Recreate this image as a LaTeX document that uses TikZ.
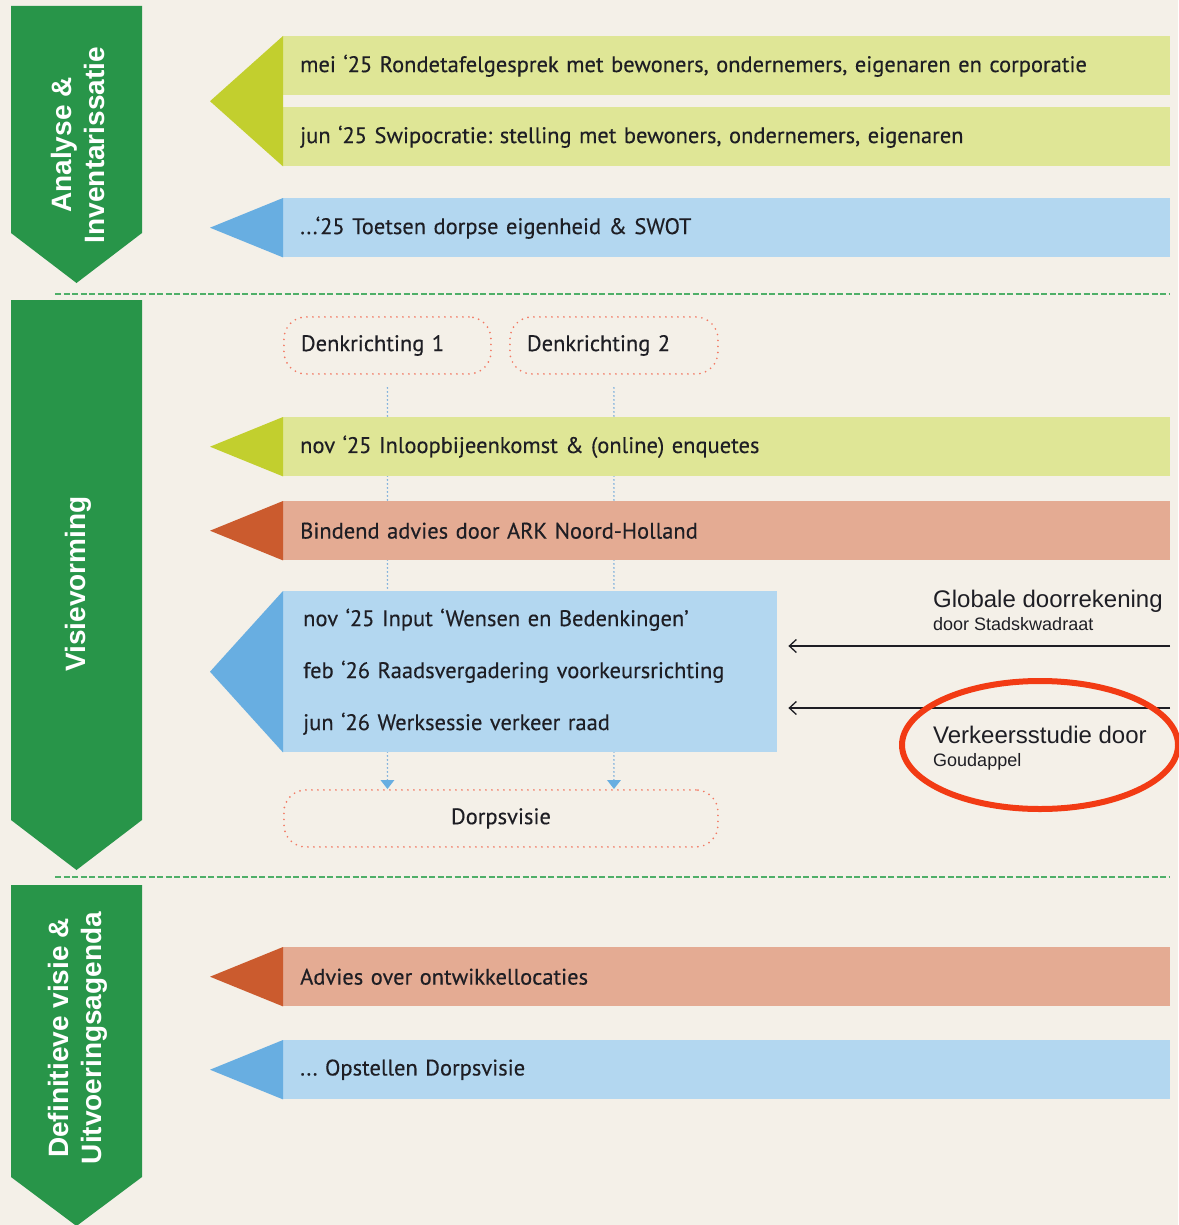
\documentclass[tikz,border=0pt]{standalone}
\usepackage{fontspec}
\setmainfont[WordSpace=0.8,FakeBold=0.3]{PT Sans}
\newfontfamily\arialfont{Liberation Sans}
\usetikzlibrary{arrows.meta,calc}
\frenchspacing
\definecolor{bg}{HTML}{F4F0E8}
\definecolor{bannergreen}{HTML}{289549}
\definecolor{sepgreen}{HTML}{4FAF68}
\definecolor{limetri}{HTML}{C2CF2E}
\definecolor{limebar}{HTML}{DFE696}
\definecolor{bluetri}{HTML}{68AEE1}
\definecolor{bluebar}{HTML}{B3D7F0}
\definecolor{salmtri}{HTML}{CB5B2E}
\definecolor{salmbar}{HTML}{E4AB93}
\definecolor{dotred}{HTML}{F27A64}
\definecolor{dotblue}{HTML}{7AAEDC}
\definecolor{ringred}{HTML}{F23B14}
\definecolor{txt}{HTML}{1E1E24}
\begin{document}
\begin{tikzpicture}[x=1pt,y=-1pt,
  bar/.style={anchor=north west, minimum height=59pt, text width=853pt, inner xsep=17pt, inner ysep=0pt,
    align=left, font=\fontsize{22.5}{26}\selectfont, text=txt},
  banner/.style={fill=bannergreen},
  bannertext/.style={rotate=90, text=white, align=center, font=\arialfont\bfseries\fontsize{28}{33}\selectfont},
  dotbox/.style={anchor=north west, draw=dotred, rounded corners=22pt, line width=1.9pt,
    dash pattern=on 0pt off 6pt, line cap=round, minimum height=57pt, inner ysep=0pt,
    font=\fontsize{22.5}{26}\selectfont, text=txt},
  flow/.style={draw=dotblue, line width=1.8pt, dash pattern=on 0pt off 4pt, line cap=round,
    -{Triangle[width=14pt,length=9pt,fill=bluetri,line width=0pt]}},
  sep/.style={draw=sepgreen, line width=1.2pt, dash pattern=on 6pt off 2.5pt},
  harrow/.style={draw=txt, line width=1.3pt, -{Straight Barb[length=7pt,width=13pt]}},
  sidebig/.style={anchor=base west, inner sep=0pt, text=txt, font=\arialfont\fontsize{24}{28}\selectfont},
  sidesmall/.style={anchor=base west, inner sep=0pt, text=txt, font=\arialfont\fontsize{18}{21}\selectfont}
]
\fill[bg] (0,0) rectangle (1178,1225);
\useasboundingbox (0,0) rectangle (1178,1225);

% banners
\fill[banner] (11,6) -- (142,6) -- (142,233) -- (76.5,283) -- (11,233) -- cycle;
\fill[banner] (11,300) -- (142,300) -- (142,820) -- (76.5,870) -- (11,820) -- cycle;
\fill[banner] (11,885) -- (142,885) -- (142,1177) -- (76.5,1226) -- (11,1177) -- cycle;
\node[bannertext] (t1) at (78,145) {Analyse \&\\Inventarissatie};
\node[bannertext] (t2) at (78,584) {Visievorming};
\node[bannertext] (t3) at (78,1038) {Definitieve visie \&\\Uitvoeringsagenda};

% separators
\draw[sep] (55,294) -- (1170,294);
\draw[sep] (55,877) -- (1170,877);

% dotted boxes
\node[dotbox, minimum width=207pt, text width=173pt, inner xsep=17pt, align=left] (d1) at (283,316) {Denkrichting 1};
\node[dotbox, minimum width=208pt, text width=174pt, inner xsep=17pt, align=left] (d2) at (509,316) {Denkrichting 2};
\node[dotbox, minimum width=434pt, text width=400pt, inner xsep=17pt, align=center] (dv) at (283,789) {Dorpsvisie};

% flow lines (behind bars)
\draw[flow, shorten <=13pt] (d1.south) -- (d1.south |- dv.north);
\draw[flow, shorten <=13pt] (d2.south) -- (d2.south |- dv.north);

% row 1 (group)
\node[bar, fill=limebar] (b1) at (283,36) {mei ‘25 Rondetafelgesprek met bewoners, ondernemers, eigenaren en corporatie};
\node[bar, fill=limebar] (b2) at (283,107) {jun ‘25 Swipocratie: stelling met bewoners, ondernemers, eigenaren};
\fill[limetri] (b1.north west) -- (b2.south west) -- ($(b1.north west)!0.5!(b2.south west)+(-73,0)$) -- cycle;

% row 2
\node[bar, fill=bluebar] (b3) at (283,198) {...‘25 Toetsen dorpse eigenheid \& SWOT};
\fill[bluetri] (b3.north west) -- (b3.south west) -- ([xshift=-73pt]b3.west) -- cycle;

% row 3
\node[bar, fill=limebar] (b4) at (283,417) {nov ‘25 Inloopbijeenkomst \& (online) enquetes};
\fill[limetri] (b4.north west) -- (b4.south west) -- ([xshift=-73pt]b4.west) -- cycle;

% row 4
\node[bar, fill=salmbar] (b5) at (283,501) {Bindend advies door ARK Noord-Holland};
\fill[salmtri] (b5.north west) -- (b5.south west) -- ([xshift=-73pt]b5.west) -- cycle;

% row 5 block
\node[anchor=north west, fill=bluebar, minimum height=161pt, text width=454pt, inner xsep=20pt, inner ysep=0pt,
  align=left, text=txt, font=\fontsize{22.5}{52}\selectfont] (blk) at (283,591)
  {nov ‘25 Input ‘Wensen en Bedenkingen’\\feb ‘26 Raadsvergadering voorkeursrichting\\jun ‘26 Werksessie verkeer raad};
\fill[bluetri] (blk.north west) -- (blk.south west) -- ([xshift=-73pt]blk.west) -- cycle;

% side inputs
\node[sidebig] (g1) at (933,607) {Globale doorrekening};
\node[sidesmall] (g2) at (933,630) {door Stadskwadraat};
\node[sidebig] (v1) at (933,743) {Verkeersstudie door};
\node[sidesmall] (v2) at (933,766) {Goudappel};
\coordinate (ga) at (1170,646);
\coordinate (va) at (1170,708);
\draw[harrow, shorten >=11pt] (ga) -- (blk.east |- ga);
\draw[harrow, shorten >=11pt] (va) -- (blk.east |- va);
\draw[ringred, line width=6pt] (1040,745) ellipse [x radius=138, y radius=64];

% row 6
\node[bar, fill=salmbar] (b6) at (283,947) {Advies over ontwikkellocaties};
\fill[salmtri] (b6.north west) -- (b6.south west) -- ([xshift=-73pt]b6.west) -- cycle;

% row 7
\node[bar, fill=bluebar] (b7) at (283,1040) {... Opstellen Dorpsvisie};
\fill[bluetri] (b7.north west) -- (b7.south west) -- ([xshift=-73pt]b7.west) -- cycle;
\end{tikzpicture}
\end{document}
